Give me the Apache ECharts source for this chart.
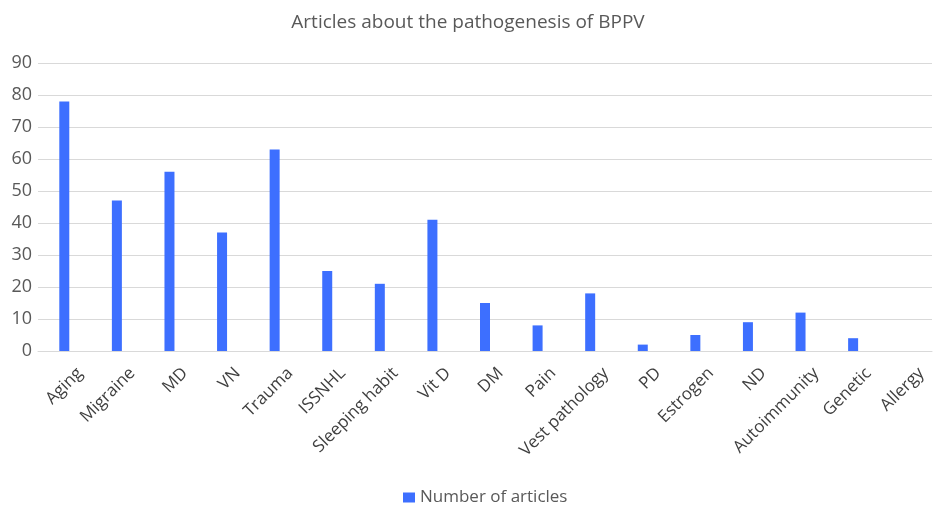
<!DOCTYPE html>
<html>
<head>
<meta charset="utf-8">
<script src="https://cdn.jsdelivr.net/npm/echarts@6/dist/echarts.min.js"></script>
<style>
  html, body { margin: 0; padding: 0; background: #fff; }
  #chart { width: 936px; height: 506px; }
</style>
</head>
<body>
<div id="chart"></div>
<script>
var categories = ["Aging", "Migraine", "MD", "VN", "Trauma", "ISSNHL", "Sleeping habit", "Vit D",
  "DM", "Pain", "Vest pathology", "PD", "Estrogen", "ND", "Autoimmunity", "Genetic", "Allergy"];
var articles = [78, 47, 56, 37, 63, 25, 21, 41, 15, 8, 18, 2, 5, 9, 12, 4, 0];
var yTicks = { min: 0, max: 90, interval: 10 };

var chart = echarts.init(document.getElementById("chart"));
chart.setOption({
  animation: false,
  textStyle: { fontFamily: "Open Sans" },
  title: {
    text: "Articles about the pathogenesis of BPPV",
    left: "center",
    top: 8,
    textStyle: { color: "#595959", fontSize: 19, fontWeight: "normal" }
  },
  legend: {
    top: 484,
    left: 398,
    icon: "rect",
    itemWidth: 12,
    itemHeight: 10,
    itemGap: 6,
    textStyle: { color: "#595959", fontSize: 17 },
    data: ["Number of articles"]
  },
  grid: { left: 38, right: 4, top: 63, bottom: 155, containLabel: false, outerBoundsMode: "none" },
  xAxis: {
    type: "category",
    data: categories,
    axisLine: { lineStyle: { color: "#d9d9d9" } },
    axisTick: { show: false },
    axisLabel: {
      rotate: 45,
      interval: 0,
      color: "#3f3f3f",
      fontSize: 17,
      margin: 4,
      verticalAlign: "top",
      lineHeight: 44
    }
  },
  yAxis: {
    type: "value",
    min: yTicks.min,
    max: yTicks.max,
    interval: yTicks.interval,
    axisLine: { show: false },
    axisTick: { show: false },
    axisLabel: { color: "#595959", fontSize: 18, margin: 6 },
    splitLine: { lineStyle: { color: "#d9d9d9" } }
  },
  series: [{
    name: "Number of articles",
    type: "bar",
    data: articles,
    barWidth: 10,
    itemStyle: { color: "#3d6fff" }
  }]
});
</script>
</body>
</html>
